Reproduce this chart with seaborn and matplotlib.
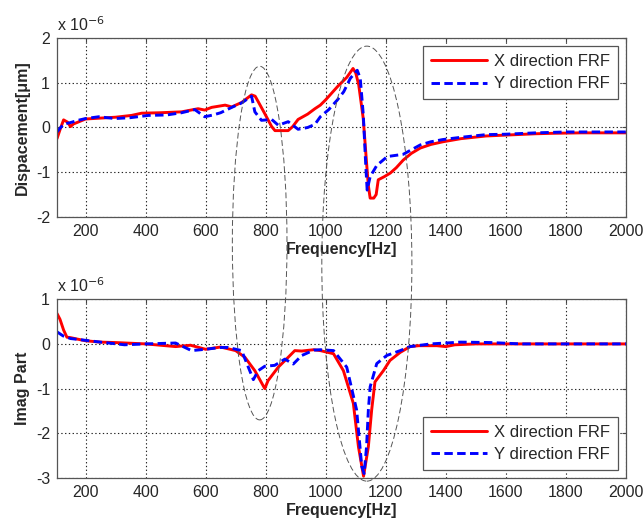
import numpy as np
import pandas as pd
import seaborn as sns
import matplotlib.pyplot as plt
from matplotlib.patches import Ellipse

# values, y in units of 1e-6
freq_top_x = [105, 115, 127, 140, 150, 160, 175, 200, 250, 300, 353, 387, 450, 520, 575, 597, 620,
              665, 687, 720, 753, 765, 775, 797, 820, 831, 875, 890, 908, 940, 964, 982, 1000,
              1040, 1070, 1091, 1100, 1110, 1125, 1135, 1142, 1148, 1160, 1168, 1175, 1195, 1215,
              1235, 1258, 1285, 1315, 1350, 1390, 1450, 1534, 1600, 1700, 1757, 1850, 2000]
disp_x = [-0.25, -0.05, 0.17, 0.12, 0.02, 0.08, 0.12, 0.19, 0.21, 0.23, 0.27, 0.32, 0.33, 0.35,
          0.42, 0.39, 0.45, 0.5, 0.46, 0.56, 0.73, 0.7, 0.58, 0.31, 0.02, -0.07, -0.07, 0.02,
          0.18, 0.3, 0.42, 0.5, 0.62, 0.92, 1.12, 1.32, 1.22, 0.95, 0.2, -0.7, -1.3, -1.58, -1.58,
          -1.5, -1.17, -1.1, -1.02, -0.9, -0.73, -0.58, -0.46, -0.38, -0.32, -0.25, -0.19,
          -0.17, -0.14, -0.13, -0.12, -0.12]

freq_top_y = [105, 117, 130, 150, 175, 200, 244, 298, 350, 409, 470, 520, 564, 597, 625, 650,
              687, 720, 753, 764, 786, 820, 842, 875, 908, 940, 964, 982, 1010, 1038, 1060,
              1082, 1105, 1115, 1125, 1133, 1138, 1148, 1170, 1205, 1258, 1285, 1315, 1350,
              1390, 1450, 1534, 1600, 1700, 1800, 2000]
disp_y = [-0.1, 0.0, 0.08, 0.11, 0.16, 0.2, 0.24, 0.2, 0.22, 0.27, 0.28, 0.33, 0.4, 0.24, 0.28,
          0.33, 0.45, 0.55, 0.7, 0.35, 0.16, 0.18, 0.05, 0.13, -0.04, 0.0, 0.07, 0.24, 0.4,
          0.61, 0.8, 1.1, 1.28, 1.1, 0.3, -0.8, -1.4, -1.1, -0.85, -0.65, -0.6, -0.5, -0.39,
          -0.32, -0.27, -0.22, -0.16, -0.15, -0.12, -0.1, -0.1]

freq_bot_x = [105, 115, 127, 138, 150, 171, 200, 250, 300, 400, 450, 500, 550, 600, 650, 700,
              731, 764, 797, 808, 842, 875, 897, 920, 960, 982, 1026, 1059, 1092, 1109, 1126,
              1142, 1153, 1164, 1192, 1214, 1248, 1281, 1310, 1370, 1400, 1430, 1500, 2000]
imag_x = [0.68, 0.55, 0.31, 0.15, 0.14, 0.11, 0.07, 0.04, 0.03, 0.0, -0.03, -0.06, -0.03,
          -0.12, -0.07, -0.15, -0.3, -0.6, -1.0, -0.82, -0.52, -0.3, -0.15, -0.16, -0.13,
          -0.15, -0.22, -0.6, -1.33, -2.3, -2.96, -2.3, -1.48, -0.85, -0.6, -0.37, -0.19,
          -0.06, -0.04, -0.04, -0.06, -0.02, 0.0, 0.0]

freq_bot_y = [105, 125, 150, 200, 250, 330, 400, 500, 553, 600, 650, 675, 720, 759, 775, 797,
              830, 864, 892, 920, 960, 982, 1026, 1070, 1103, 1120, 1128, 1136, 1142, 1148,
              1170, 1203, 1248, 1281, 1350, 1450, 1550, 1650, 2000]
imag_y = [0.27, 0.18, 0.12, 0.08, 0.04, -0.02, 0.0, 0.02, -0.15, -0.12, -0.08, -0.08, -0.15,
          -0.8, -0.6, -0.5, -0.48, -0.34, -0.45, -0.26, -0.14, -0.13, -0.15, -0.52, -1.48,
          -2.74, -2.9, -2.3, -1.48, -0.96, -0.44, -0.26, -0.15, -0.06, 0.0, 0.04, 0.03, 0.0, 0.0]

labels = ['X direction FRF', 'Y direction FRF']

# marked resonance regions: centre Hz, half width Hz, top (upper axes), bottom (lower axes)
regions = [(780, 91, 1.37, -1.70), (1137, 150, 1.82, -3.07)]

sns.set_style('white')
plt.rcParams['font.family'] = ['Liberation Sans', 'DejaVu Sans']
plt.rcParams['axes.unicode_minus'] = False

fig = plt.figure(figsize=(6.44, 5.29), dpi=100)
ax1 = fig.add_axes([0.0885, 0.590, 0.8835, 0.338])
ax2 = fig.add_axes([0.0885, 0.0964, 0.8835, 0.338])

fs = 11.5


def draw(ax, fx, vx, fy, vy, ylim, ylabel, loc):
    sns.lineplot(x=fx, y=vx, ax=ax, color='#ff0000', lw=2.1, estimator=None, label=labels[0])
    sns.lineplot(x=fy, y=vy, ax=ax, color='#0000ff', lw=2.1, estimator=None, label=labels[1])
    ax.lines[1].set_linestyle((0, (2.9, 1.5)))
    ax.set_xlim(105, 2000)
    ax.set_ylim(*ylim)
    ax.set_xticks(range(200, 2001, 200))
    ax.set_yticks(range(ylim[0], ylim[1] + 1))
    ax.grid(True, color='#222222', linestyle=(0, (1.2, 2.2)), lw=0.8)
    ax.tick_params(direction='in', length=3, labelsize=fs, top=True, right=True,
                   color='#444444', pad=5)
    for s in ax.spines.values():
        s.set_color('#555555')
        s.set_linewidth(0.9)
    ax.set_xlabel('Frequency[Hz]', fontsize=fs, fontweight='bold', labelpad=2)
    ax.set_ylabel(ylabel, fontsize=fs, fontweight='bold', labelpad=4)
    ax.text(0.0, 1.025, 'x 10$^{-6}$', transform=ax.transAxes, fontsize=fs, ha='left', va='bottom')
    leg = ax.legend(loc=loc, fontsize=fs + 0.5, handlelength=3.4, fancybox=False, framealpha=1,
                    edgecolor='#555555', borderaxespad=0.5, labelspacing=0.45,
                    handletextpad=0.4, borderpad=0.45)
    leg.get_frame().set_linewidth(0.9)


draw(ax1, freq_top_x, disp_x, freq_top_y, disp_y, (-2, 2), 'Dispacement[\u03bcm]', 'upper right')
draw(ax2, freq_bot_x, imag_x, freq_bot_y, imag_y, (-3, 1), 'Imag Part', 'lower right')

inv = fig.transFigure.inverted()
for c, hw, top, bot in regions:
    x0, y0 = inv.transform(ax1.transData.transform((c - hw, top)))
    x1, _ = inv.transform(ax1.transData.transform((c + hw, top)))
    _, yb = inv.transform(ax2.transData.transform((c, bot)))
    e = Ellipse(((x0 + x1) / 2, (y0 + yb) / 2), x1 - x0, y0 - yb, transform=fig.transFigure,
                fill=False, edgecolor='#555555', lw=0.7, linestyle=(0, (6, 3)), zorder=5)
    fig.add_artist(e)

fig.savefig('out.png', dpi=100)
